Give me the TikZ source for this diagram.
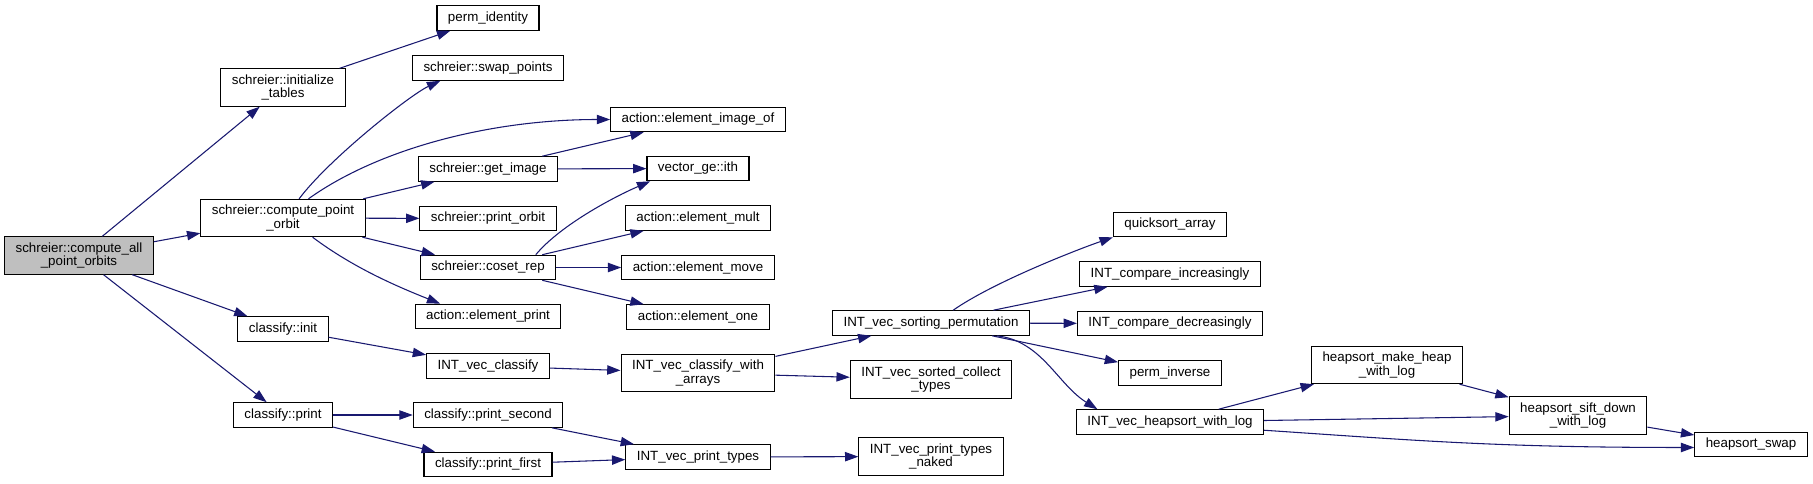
\documentclass[tikz,border=0pt]{standalone}
\usepackage{fontspec}
\setmainfont{Liberation Sans}
\usetikzlibrary{arrows.meta}
\definecolor{edgeblue}{HTML}{191970}
\definecolor{rootgray}{HTML}{BFBFBF}

\begin{document}
\begin{tikzpicture}[x=0.75pt, y=-0.75pt, >={Triangle[length=10pt,width=7pt]},
  fn/.style={draw=black, line width=0.8pt, fill=white, inner xsep=8.25pt, inner ysep=2pt,
    minimum height=18.4pt, align=center, font=\fontsize{10}{10}\selectfont},
  fn2/.style={fn, minimum height=28pt},
  call/.style={->, edgeblue, line width=0.8pt}]
  \useasboundingbox (0,0) rectangle (1813,483);

  % Root function
  \node[fn2, fill=rootgray] (cap) at (79,255.5) {schreier::compute\_all\\\_point\_orbits};

  % Direct callees
  \node[fn2] (init) at (283,87.5) {schreier::initialize\\\_tables};
  \node[fn2] (cpo) at (283,218) {schreier::compute\_point\\\_orbit};
  \node[fn] (cinit) at (283,329) {classify::init};
  \node[fn] (cprint) at (283,415) {classify::print};

  % Third column
  \node[fn] (pid) at (488,18) {perm\_identity};
  \node[fn] (swp) at (488,68) {schreier::swap\_points};
  \node[fn] (gim) at (488,169) {schreier::get\_image};
  \node[fn] (porb) at (488,218.5) {schreier::print\_orbit};
  \node[fn] (crep) at (488,267.5) {schreier::coset\_rep};
  \node[fn] (eprint) at (488,316.5) {action::element\_print};
  \node[fn] (ivc) at (488,366) {INT\_vec\_classify};
  \node[fn] (psec) at (488,415) {classify::print\_second};
  \node[fn] (pfirst) at (488,464.5) {classify::print\_first};

  % Fourth column
  \node[fn] (eimg) at (698,119.5) {action::element\_image\_of};
  \node[fn] (vith) at (698,168.5) {vector\_ge::ith};
  \node[fn] (emult) at (698,218) {action::element\_mult};
  \node[fn] (emove) at (698,267.5) {action::element\_move};
  \node[fn] (eone) at (698,317) {action::element\_one};
  \node[fn2] (ivcwa) at (698,373) {INT\_vec\_classify\_with\\\_arrays};
  \node[fn] (ipt) at (698,457) {INT\_vec\_print\_types};

  % Fifth column
  \node[fn] (isp) at (931,323) {INT\_vec\_sorting\_permutation};
  \node[fn2] (isct) at (931,379.5) {INT\_vec\_sorted\_collect\\\_types};
  \node[fn2] (iptn) at (931,456.5) {INT\_vec\_print\_types\\\_naked};

  % Sorting helpers
  \node[fn] (qsa) at (1170,224.5) {quicksort\_array};
  \node[fn] (cinc) at (1170,274) {INT\_compare\_increasingly};
  \node[fn] (cdec) at (1170,323.5) {INT\_compare\_decreasingly};
  \node[fn] (pinv) at (1170,373) {perm\_inverse};
  \node[fn] (ihs) at (1170,422) {INT\_vec\_heapsort\_with\_log};

  % Heapsort chain
  \node[fn2] (hmh) at (1387,365) {heapsort\_make\_heap\\\_with\_log};
  \node[fn2] (hsd) at (1578,415.5) {heapsort\_sift\_down\\\_with\_log};
  \node[fn] (hsw) at (1751,444.5) {heapsort\_swap};

  % Calls from the root
  \draw[call] (cap) -- (init);
  \draw[call] (cap) -- (cpo);
  \draw[call] (cap) -- (cinit);
  \draw[call] (cap) -- (cprint);
  \draw[call] (init) -- (pid);

  % Calls from compute_point_orbit
  \draw[call] (cpo.50) .. controls +(30,-40) and +(-30,14) .. (swp.195);
  \draw[call] (cpo.37) .. controls +(70,-50) and +(-120,0) .. (eimg.west);
  \draw[call] (cpo) -- (gim);
  \draw[call] (cpo) -- (porb);
  \draw[call] (cpo) -- (crep);
  \draw[call] (cpo.-33) .. controls +(40,30) and +(-45,-18) .. (eprint.165);

  % get_image and coset_rep
  \draw[call] (gim) -- (eimg);
  \draw[call] (gim) -- (vith);
  \draw[call] (crep.15) .. controls +(25,-30) and +(-35,15) .. (vith.195);
  \draw[call] (crep) -- (emult);
  \draw[call] (crep) -- (emove);
  \draw[call] (crep) -- (eone);

  % classify
  \draw[call] (cinit) -- (ivc);
  \draw[call] (ivc) -- (ivcwa);
  \draw[call] (ivcwa) -- (isp);
  \draw[call] (ivcwa) -- (isct);
  \draw[call] (cprint) -- (psec);
  \draw[call] (cprint) -- (pfirst);
  \draw[call] (psec) -- (ipt);
  \draw[call] (pfirst) -- (ipt);
  \draw[call] (ipt) -- (iptn);

  % sorting permutation
  \draw[call] (isp.30) .. controls +(40,-28) and +(-35,12) .. (qsa.south west);
  \draw[call] (isp) -- (cinc);
  \draw[call] (isp) -- (cdec);
  \draw[call] (isp) -- (pinv);
  \draw[call] (isp.-11) .. controls +(45,5) and +(-40,-25) .. (ihs.170);

  % heapsort
  \draw[call] (ihs) -- (hmh);
  \draw[call] (ihs) -- (hsd);
  \draw[call] (ihs.-5.5) .. controls +(150,10) and +(-200,0) .. (hsw.183);
  \draw[call] (hmh) -- (hsd);
  \draw[call] (hsd) -- (hsw);
\end{tikzpicture}
\end{document}
